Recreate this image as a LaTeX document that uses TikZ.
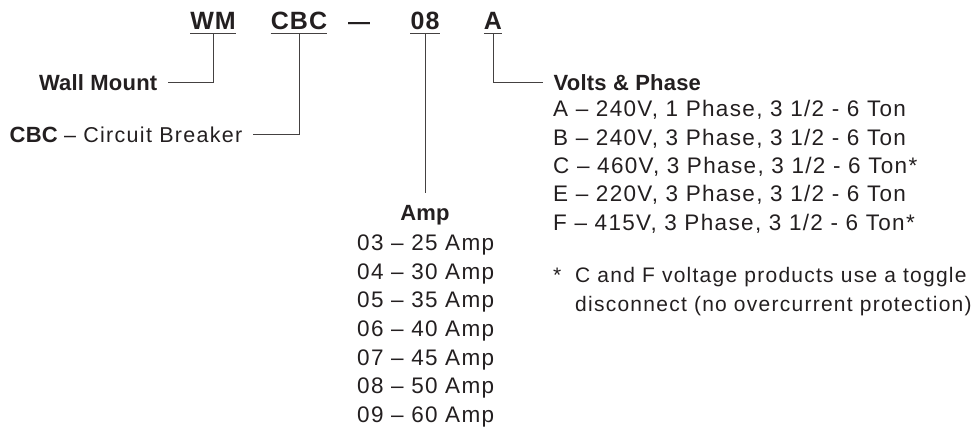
\documentclass[tikz,border=0pt]{standalone}
\usepackage{fontspec}
\setmainfont{Liberation Sans}[LetterSpace=6]
\newfontfamily\boldlbl{Liberation Sans}[LetterSpace=1]
\newfontfamily\headfnt{Liberation Sans}[LetterSpace=4]
\usepackage{xcolor}
\definecolor{ink}{HTML}{231F20}
\usetikzlibrary{positioning}

\tikzset{
  hd/.style={font=\headfnt\bfseries\fontsize{25}{30}\selectfont, text=ink, inner xsep=0pt, inner ysep=4pt, anchor=base},
  lbl/.style={font=\boldlbl\bfseries\fontsize{22}{28.4}\selectfont, text=ink, inner xsep=10.5pt, inner ysep=0pt},
  item/.style={font=\fontsize{22.5}{28.4}\selectfont, text=ink, inner sep=0pt, anchor=base west},
  note/.style={item, font=\fontsize{21}{28.4}\selectfont},
  rule/.style={draw=ink!85, line width=1pt}
}

\begin{document}
\begin{tikzpicture}[x=1pt, y=-1pt]
  \useasboundingbox (0,0) rectangle (980,430);
  % model code, underlined parts
  \foreach \n/\x/\t in {wm/213/WM, cbc/299/CBC, amps/425/08, volts/493/A} {
    \node[hd] (\n) at (\x,29.5) {\t};
    \draw[rule] (\n.south west) -- (\n.south east);
  }
  \node[hd, font=\headfnt\bfseries\fontsize{22}{30}\selectfont] (dash) at (359,29.5) {—};

  % labels
  \node[lbl, anchor=east] (wml) at (168,83) {Wall Mount};
  \node[lbl, anchor=east] (cbcl) at (253,134.5) {CBC {\normalfont\fontsize{21.5}{28.4}\selectfont – Circuit Breaker}};
  \node[lbl, anchor=west] (voltsl) at (543,83) {Volts \& Phase};
  \node[lbl, anchor=base, inner ysep=13pt] (ampsl) at (425,221) {Amp};

  \draw[rule] (wm.south) |- (wml.east);
  \draw[rule] (cbc.south) |- (cbcl.east);
  \draw[rule] (amps.south) -- (ampsl.north);
  \draw[rule] (volts.south) |- (voltsl.west);

  % amp list
  \foreach \code/\rate [count=\k] in {03/25, 04/30, 05/35, 06/40, 07/45, 08/50, 09/60}
    \node[item] (amp\k) at (357,{251+28.5*(\k-1)}) {\code\ – \rate\ Amp};

  % volts and phase list
  \foreach \lett/\volt/\phs/\tail [count=\k] in {A/240/1/, B/240/3/, C/460/3/*, E/220/3/, F/415/3/*}
    \node[item] (ph\k) at (553,{116.7+28.4*(\k-1)}) {\lett\ – \volt V, \phs\ Phase, 3 1/2 - 6 Ton\tail};

  % footnote
  \node[note] (star) at (553,283) {*};
  \node[note] (note1) at (575,283) {C and F voltage products use a toggle};
  \node[note] (note2) at (575,311.5) {disconnect (no overcurrent protection)};
\end{tikzpicture}
\end{document}
